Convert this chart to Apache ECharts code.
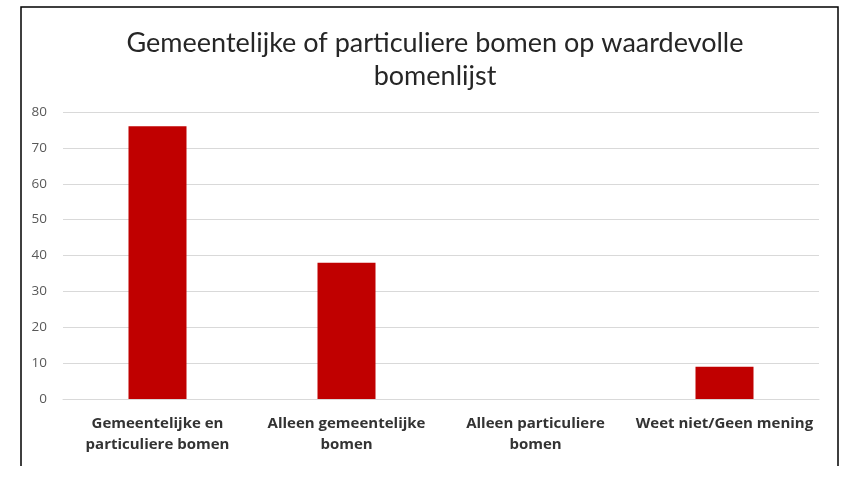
<!DOCTYPE html>
<html>
<head>
<meta charset="utf-8">
<script src="https://cdn.jsdelivr.net/npm/echarts@6/dist/echarts.min.js"></script>
<style>
  html, body { margin: 0; padding: 0; background: #fff; }
  #main { width: 864px; height: 480px; }
</style>
</head>
<body>
<div id="main"></div>
<script>
var titleText = 'Gemeentelijke of particuliere bomen op waardevolle\nbomenlijst';
var categories = [
  'Gemeentelijke en\nparticuliere bomen',
  'Alleen gemeentelijke\nbomen',
  'Alleen particuliere\nbomen',
  'Weet niet/Geen mening'
];
var values = [76, 38, 0, 9];
var yTicks = { min: 0, max: 80, interval: 10 };

var myChart = echarts.init(document.getElementById('main'));

myChart.setOption({
  backgroundColor: '#fff',
  animation: false,
  // kader rond de grafiek (onderkant niet zichtbaar)
  graphic: [{
    type: 'polyline',
    shape: { points: [[21, 466], [21, 7], [838, 7], [838, 466]] },
    style: { stroke: '#000', lineWidth: 1.5, fill: null }
  }],
  title: {
    text: titleText,
    left: 430,
    textAlign: 'center',
    top: 22,
    textStyle: {
      fontFamily: 'Lato',
      fontWeight: 'normal',
      fontSize: 27,
      lineHeight: 33,
      color: '#262626'
    }
  },
  grid: { left: 63, right: 45, top: 112, bottom: 81 },
  xAxis: {
    type: 'category',
    data: categories,
    axisLine: { lineStyle: { color: '#d9d9d9' } },
    axisTick: { show: false },
    axisLabel: {
      interval: 0,
      margin: 14,
      fontFamily: 'Open Sans',
      fontWeight: 'bold',
      fontSize: 15,
      lineHeight: 21,
      color: '#333'
    }
  },
  yAxis: {
    type: 'value',
    min: yTicks.min,
    max: yTicks.max,
    interval: yTicks.interval,
    axisLine: { show: false },
    axisTick: { show: false },
    splitLine: { lineStyle: { color: '#d9d9d9' } },
    axisLabel: {
      margin: 16,
      fontFamily: 'Open Sans',
      fontSize: 13.5,
      color: '#595959'
    }
  },
  series: [{
    type: 'bar',
    data: values,
    barWidth: 58,
    itemStyle: { color: '#c00000' }
  }]
});
</script>
</body>
</html>
